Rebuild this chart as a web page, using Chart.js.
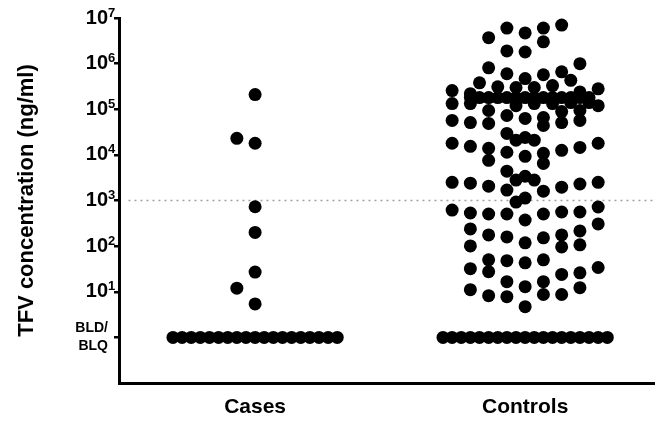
<!DOCTYPE html>
<html>
<head>
<meta charset="utf-8">
<script src="https://cdn.jsdelivr.net/npm/chart.js@4.4.0/dist/chart.umd.min.js"></script>
<style>
  body { margin: 0; background: #fff; }
  canvas { display: block; }
</style>
</head>
<body>
<canvas id="tfvChart" width="661" height="423"></canvas>
<script>
// groups along the x axis
const categories = ["Cases", "Controls"];

// TFV concentration (ng/ml); BLD/BLQ results are plotted at 1
const casesValues = [
  2.1e5, 2.3e4, 1.8e4, 730, 200, 27, 12, 5.4,
  1, 1, 1, 1, 1, 1, 1, 1, 1, 1, 1, 1, 1, 1, 1, 1, 1, 1, 1
];
// horizontal jitter slot of each dot (half-dot steps from the group centre)
const casesSlots = [
  0, -2, 0, 0, 0, 0, -2, 0,
  -9, -8, -7, -6, -5, -4, -3, -2, -1, 0, 1, 2, 3, 4, 5, 6, 7, 8, 9
];

const controlsValues = [
  3.7e6, 6.0e6, 4.7e6, 6.0e6, 7.0e6, 3.0e6, 1.9e6, 1.8e6,
  1.0e6, 8.1e5, 6.0e5, 4.7e5, 5.7e5, 6.6e5, 4.3e5, 3.8e5, 3.1e5, 3.0e5, 3.0e5, 3.3e5, 2.56e5, 2.8e5, 2.2e5, 2.4e5,
  1.8e5, 1.8e5, 1.8e5, 1.8e5, 1.8e5, 1.8e5, 1.8e5, 1.8e5, 1.8e5, 1.8e5, 1.8e5, 1.8e5, 1.8e5, 1.8e5,
  1.33e5, 1.33e5, 1.2e5, 1.33e5, 1.33e5, 1.4e5, 1.4e5, 1.2e5,
  9.4e4, 8.9e4, 9.4e4,
  5.7e4, 5.1e4, 4.9e4, 7.3e4, 6.3e4, 6.6e4, 4.4e4, 5.1e4, 5.7e4,
  2.95e4, 2.1e4, 2.4e4, 2.1e4,
  1.8e4, 1.54e4, 1.39e4, 7.6e3, 1.14e4, 9.3e3, 1.08e4, 6.5e3, 1.26e4, 1.46e4, 1.8e4,
  4.4e3, 2.8e3, 3.4e3, 2.8e3,
  2.5e3, 2.4e3, 2.06e3, 1.69e3, 1.6e3, 1.96e3, 2.3e3, 2.5e3,
  925, 1130,
  618, 532, 506, 506, 374, 506, 559, 559, 720, 306,
  238, 215, 176, 159, 118, 152, 176, 96, 107, 101,
  50, 27.5, 48, 43, 50, 32, 24, 26, 34,
  11.1, 8.2, 16.6, 7.8, 12.9, 16.6, 8.7, 8.7, 12.3, 4.7,
  1, 1, 1, 1, 1, 1, 1, 1, 1, 1, 1, 1, 1, 1, 1, 1, 1, 1, 1
];
const controlsSlots = [
  -4, -2, 0, 2, 4, 2, -2, 0,
  6, -4, -2, 0, 2, 4, 5, -5, -3, -1, 1, 3, -8, 8, -6, 6,
  -6, -5, -4, -3, -2, -1, 0, 1, 2, 3, 4, 5, 6, 7,
  -8, -6, -1, 1, 3, 5, 7, 8,
  -4, 4, 6,
  -8, -6, -4, -2, 0, 2, 2, 4, 6,
  -2, -1, 0, 1,
  -8, -6, -4, -4, -2, 0, 2, 2, 4, 6, 8,
  -2, -1, 0, 1,
  -8, -6, -4, -2, 2, 4, 6, 8,
  -1, 0,
  -8, -6, -4, -2, 0, 2, 4, 6, 8, 8,
  -6, 6, -4, -2, 0, 2, 4, 4, 6, -6,
  -4, -4, -2, 0, 2, -6, 4, 6, 8,
  -6, -4, -2, -2, 0, 2, 2, 4, 6, 0,
  -9, -8, -7, -6, -5, -4, -3, -2, -1, 0, 1, 2, 3, 4, 5, 6, 7, 8, 9
];

const yTicks = [1, 10, 100, 1e3, 1e4, 1e5, 1e6, 1e7];
const thresholdValue = 1000;

const slotWidth = 0.0338; // half a dot, in category units
const xMin = 0.496, xMax = 2.479;
const fontFamily = "'Liberation Sans', Arial, Helvetica, sans-serif";

function groupPoints(values, slots, group) {
  return values.map((v, i) => ({ x: group + slots[i] * slotWidth, y: v }));
}

// the exponent of each "10" tick label, drawn raised next to it
const superscripts = {
  id: "superscripts",
  afterDraw(chart) {
    const scale = chart.scales.y;
    const ctx = chart.ctx;
    ctx.save();
    ctx.font = "bold 13px " + fontFamily;
    ctx.fillStyle = "#000";
    ctx.textAlign = "left";
    ctx.textBaseline = "middle";
    yTicks.forEach((v) => {
      if (v === 1) return;
      ctx.fillText(String(Math.round(Math.log10(v))), scale.right - 11, scale.getPixelForValue(v) - 5);
    });
    ctx.restore();
  }
};

const dotStyle = {
  type: "scatter",
  pointRadius: 6.5,
  pointHoverRadius: 6.5,
  pointBackgroundColor: "#000",
  pointBorderWidth: 0,
  showLine: false
};

new Chart(document.getElementById("tfvChart").getContext("2d"), {
  data: {
    datasets: [
      Object.assign({ label: categories[0], data: groupPoints(casesValues, casesSlots, 1) }, dotStyle),
      Object.assign({ label: categories[1], data: groupPoints(controlsValues, controlsSlots, 2) }, dotStyle),
      {
        type: "line",
        label: "threshold",
        data: [{ x: xMin + 0.035, y: thresholdValue }, { x: xMax, y: thresholdValue }],
        borderColor: "#a0a0a0",
        borderWidth: 1.5,
        borderDash: [2, 4],
        pointRadius: 0
      }
    ]
  },
  options: {
    responsive: false,
    animation: false,
    layout: { padding: { top: 17, right: 0, bottom: 0, left: 0 } },
    plugins: { legend: { display: false }, tooltip: { enabled: false } },
    scales: {
      x: {
        type: "linear",
        min: xMin,
        max: xMax,
        afterBuildTicks: (scale) => { scale.ticks = categories.map((c, i) => ({ value: i + 1 })); },
        afterFit: (scale) => { scale.height = 40; },
        border: { color: "#000", width: 3 },
        grid: { display: false, drawTicks: false },
        ticks: {
          color: "#000",
          padding: 12,
          font: { family: fontFamily, size: 21, weight: "bold" },
          callback: (v) => categories[Math.round(v) - 1]
        }
      },
      y: {
        type: "logarithmic",
        min: 0.1,
        max: 1e7,
        afterBuildTicks: (scale) => { scale.ticks = yTicks.map((v) => ({ value: v })); },
        afterFit: (scale) => { scale.width = 119; },
        border: { color: "#000", width: 3 },
        grid: { display: true, drawOnChartArea: false, drawTicks: true, tickLength: 5, color: "#000", lineWidth: 2.5 },
        ticks: {
          color: "#000",
          padding: 6,
          autoSkip: false,
          font: (ctx) => ctx.tick && ctx.tick.value === 1
            ? { family: fontFamily, size: 14, weight: "bold", lineHeight: 1.3 }
            : { family: fontFamily, size: 20, weight: "bold" },
          callback: (v) => v === 1 ? ["BLD/", "BLQ"] : "10"
        },
        title: {
          display: true,
          text: "TFV concentration (ng/ml)",
          color: "#000",
          font: { family: fontFamily, size: 22, weight: "bold" },
          padding: { top: 14, bottom: 0 }
        }
      }
    }
  },
  plugins: [superscripts]
});
</script>
</body>
</html>
